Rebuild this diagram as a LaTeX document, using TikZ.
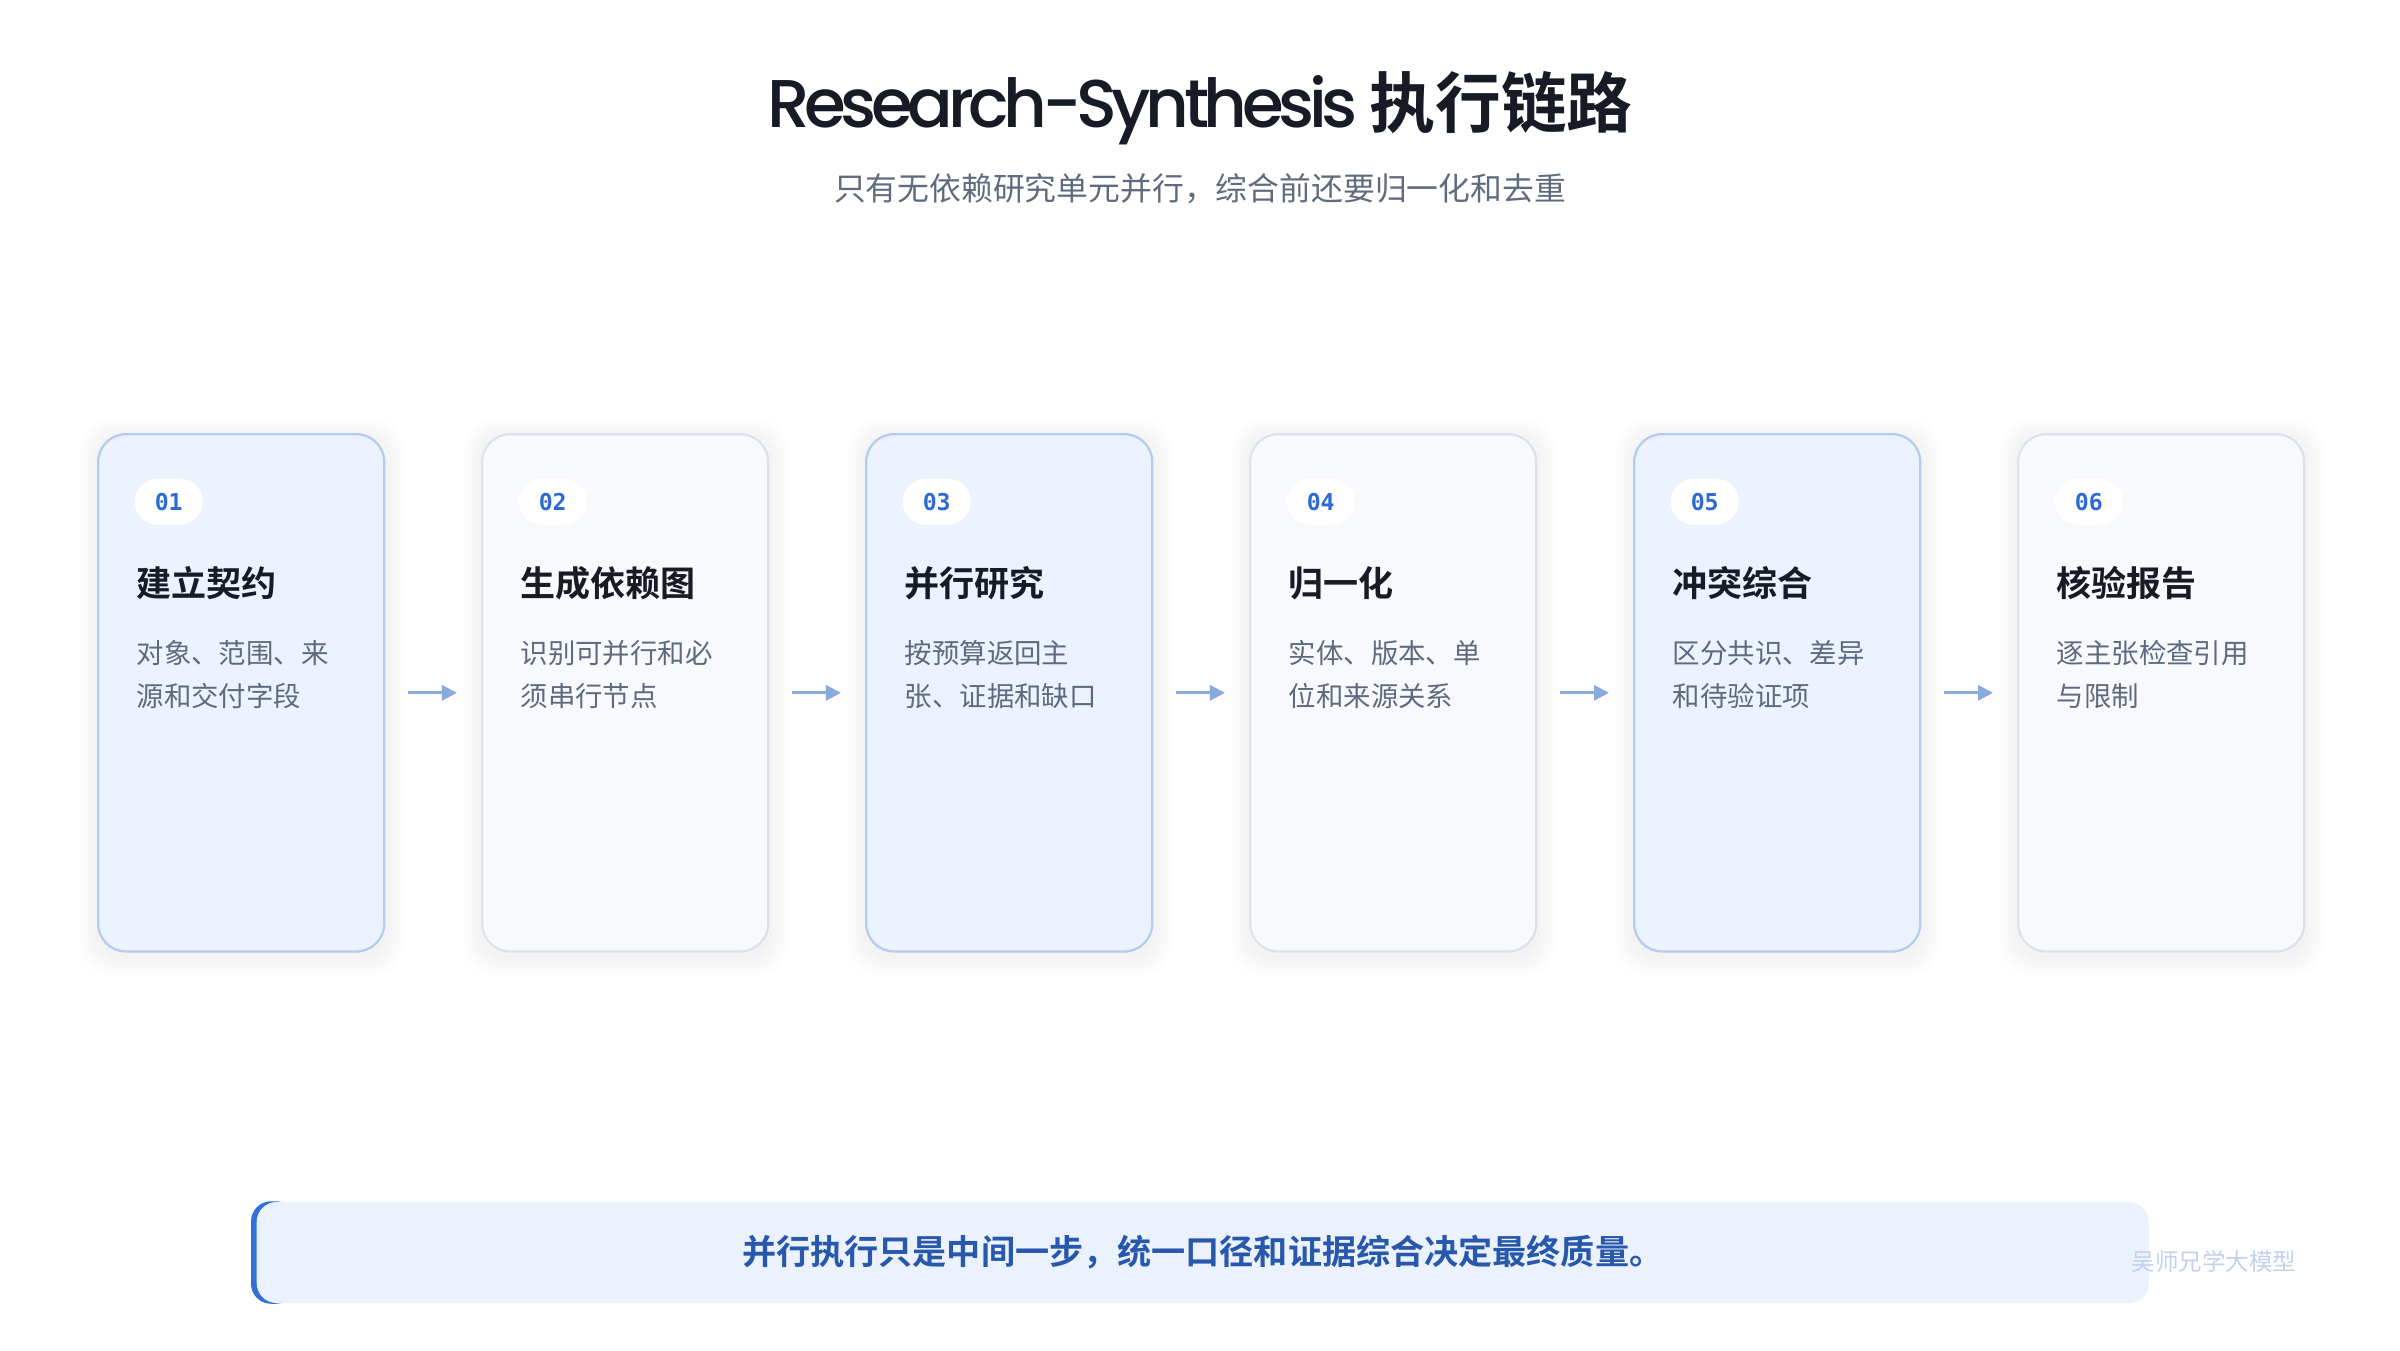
\documentclass[tikz,border=0pt]{standalone}
\usepackage{fontspec}
\setmainfont{Noto Sans CJK SC}[BoldFont={Noto Sans CJK SC Bold}]
\newfontfamily\headfont{Poppins Medium}[LetterSpace=-8]
\newfontfamily\numfont{DejaVu Sans Mono}
\usetikzlibrary{arrows.meta,backgrounds}
\definecolor{cInk}{HTML}{161B26}
\definecolor{cSub}{HTML}{5F6B7E}
\definecolor{cDesc}{HTML}{5E6A80}
\definecolor{cNum}{HTML}{2E6AD6}
\definecolor{cCardA}{HTML}{EDF3FE}
\definecolor{cEdgeA}{HTML}{B4CCF0}
\definecolor{cCardB}{HTML}{F7F9FD}
\definecolor{cEdgeB}{HTML}{DCE2EB}
\definecolor{cArrow}{HTML}{8AA9DE}
\definecolor{cNote}{HTML}{EBF2FE}
\definecolor{cAccent}{HTML}{3470D9}
\definecolor{cNoteInk}{HTML}{2858AC}
\definecolor{cMark}{HTML}{C3D1EE}
\tikzset{
  stepcard/.style={rectangle, rounded corners=0.28cm, minimum width=2.86cm,
    minimum height=5.17cm, inner sep=0pt, line width=0.65pt},
  cardA/.style={stepcard, fill=cCardA, draw=cEdgeA},
  cardB/.style={stepcard, fill=cCardB, draw=cEdgeB},
  numbadge/.style={rectangle, rounded corners=0.23cm, fill=white,
    minimum width=0.68cm, minimum height=0.46cm, inner sep=0pt, text=cNum,
    font=\numfont\bfseries\fontsize{6.6}{8}\selectfont},
  steptitle/.style={anchor=base west, inner sep=0pt, text=cInk,
    font=\bfseries\fontsize{9.96}{12}\selectfont},
  stepdesc/.style={anchor=north west, inner sep=0pt, align=left, text=cDesc,
    font=\fontsize{7.8}{12.2}\selectfont},
  flow/.style={-{Triangle[length=0.15cm, width=0.15cm]}, cArrow,
    line width=0.85pt, shorten <=0.23cm, shorten >=0.24cm},
  note/.style={rectangle, rounded corners=0.2cm, fill=cNote, inner sep=0pt,
    minimum width=18.91cm, minimum height=1.01cm, text=cNoteInk,
    font=\bfseries\fontsize{9.7}{12}\selectfont},
  watermark/.style={inner sep=0pt, text=cMark, font=\fontsize{6.7}{8}\selectfont},
}

\begin{document}
\begin{tikzpicture}[x=0.01cm, y=-0.01cm]
\useasboundingbox (0,0) rectangle (2400,1350);
\begin{scope}[on background layer]
  \fill[white] (0,0) rectangle (2400,1350);
\end{scope}

% ============================================================ heading
\node[anchor=base, inner sep=0pt, text=cInk] (title) at (1200,127)
  {{\headfont\fontsize{19.2}{24}\selectfont Research-Synthesis }{\bfseries\fontsize{18.7}{24}\selectfont 执行链路}};
\node[anchor=base, inner sep=0pt, text=cSub, font=\fontsize{9.05}{11}\selectfont] (subtitle)
  at (1200,200) {只有无依赖研究单元并行，综合前还要归一化和去重};

% ============================================================ six steps
\foreach \i/\kind/\name/\lineA/\lineB in {
    1/A/建立契约/对象、范围、来/源和交付字段,
    2/B/生成依赖图/识别可并行和必/须串行节点,
    3/A/并行研究/按预算返回主/张、证据和缺口,
    4/B/归一化/实体、版本、单/位和来源关系,
    5/A/冲突综合/区分共识、差异/和待验证项,
    6/B/核验报告/逐主张检查引用/与限制} {
  \pgfmathsetmacro{\x}{97+(\i-1)*384}
  \node[card\kind, anchor=north west] (card\i) at (\x,433) {};
  \node[numbadge, anchor=north west] (num\i) at (\x+37,478) {0\i};
  \node[steptitle] (name\i) at (\x+39,596) {\name};
  \node[stepdesc] (desc\i) at (\x+39,640) {\lineA\\\lineB};
}
% soft shadow under the cards
\begin{scope}[on background layer]
  \foreach \i in {1,...,6} {
    \foreach \k in {1,...,6} {
      \fill[black, opacity=0.006, rounded corners=0.3cm]
        ([shift={({-3*\k},{-3*\k+4})}]card\i.north west) rectangle
        ([shift={({3*\k},{3*\k+4})}]card\i.south east);
    }
  }
\end{scope}
\foreach \i [evaluate=\i as \j using int(\i+1)] in {1,...,5}
  \draw[flow] (card\i.east) -- (card\j.west);

% ============================================================ closing note
\node[note, anchor=west] (note) at (256,1252.5)
  {并行执行只是中间一步，统一口径和证据综合决定最终质量。};
\begin{scope}[on background layer]
  \fill[cAccent, rounded corners=0.2cm]
    ([xshift=-0.05cm]note.north west) rectangle ([xshift=0.4cm]note.south west);
\end{scope}
\node[watermark] (wm) at (2214,1261) {吴师兄学大模型};
\end{tikzpicture}
\end{document}
